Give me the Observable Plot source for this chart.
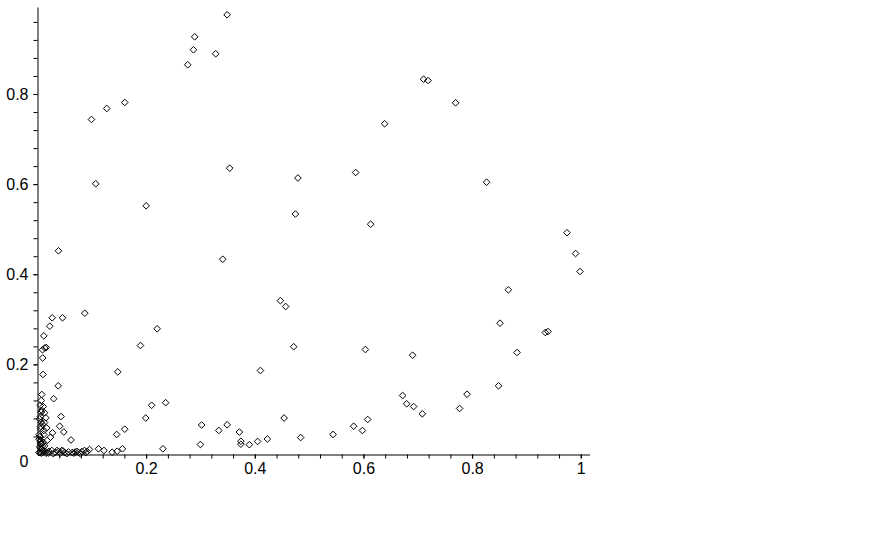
<!DOCTYPE html>
<html><head><meta charset="utf-8">
<script src="https://cdn.jsdelivr.net/npm/d3@7"></script>
<script src="https://cdn.jsdelivr.net/npm/@observablehq/plot@0.6"></script>
<style>body{margin:0;background:#fff}</style>
</head><body><div id="chart"></div>
<script>
// Point x values
const xValues = [
0.0984,0.1266,0.1597,0.1063,0.1991,0.2756,0.2885,0.2861,0.3271,0.3481,
0.3529,0.4784,0.4738,0.5847,0.6123,0.6381,0.7098,0.7179,0.7687,0.8258,
0.9737,0.9895,0.9976,0.8657,0.8504,0.9338,0.9387,0.8817,0.6896,0.6026,
0.4707,0.4462,0.4559,0.8478,0.7897,0.7761,0.6712,0.6786,0.6914,0.7075,
0.6068,0.5810,0.5971,0.5431,0.4835,0.4530,0.0377,0.3400,0.0861,0.0261,
0.0451,0.0217,0.0107,0.0125,0.0151,0.0083,0.0086,0.0092,0.2193,0.1886,
0.1468,0.4094,0.0372,0.0289,0.2092,0.2350,0.1983,0.0423,0.0399,0.0475,
0.0607,0.1448,0.1597,0.3012,0.3327,0.3481,0.3707,0.3735,0.3735,0.3891,
0.4042,0.4223,0.2990,0.2300,0.1113,0.1214,0.1365,0.1457,0.1555,
0.0070,0.0059,0.0096,0.0120,0.0144,0.0070,0.0046,0.0059,0.0107,0.0107,
0.0267,0.0230,0.0169,0.0059,0.0046,0.0070,0.0046,0.0037,0.0083,0.0138,
0.0193,0.0018,0.0254,0.0322,0.0377,0.0438,0.0488,0.0561,0.0629,0.0684,
0.0745,0.0806,0.0856,0.0905,0.0948,
0.0020,0.0040,0.0060,0.0080,0.0030,0.0050,0.0070,0.0090,0.0040,0.0060,
0.0020,0.0100,0.0120,0.0150,0.0200,0.0280,0.0350,0.0410,0.0460,0.0530,
0.0660,0.0720,0.0780,0.0880,0.0040,0.0060,0.0030,0.0080,0.0050,0.0120,
0.0160
];
// Point y values
const yValues = [
0.7446,0.7690,0.7823,0.6019,0.5530,0.8660,0.9280,0.8993,0.8904,0.9769,
0.6365,0.6147,0.5348,0.6270,0.5122,0.7350,0.8340,0.8311,0.7816,0.6054,
0.4933,0.4472,0.4072,0.3666,0.2925,0.2719,0.2741,0.2275,0.2215,0.2341,
0.2403,0.3424,0.3296,0.1536,0.1349,0.1032,0.1320,0.1136,0.1076,0.0914,
0.0788,0.0639,0.0544,0.0455,0.0388,0.0821,0.4532,0.4345,0.3147,0.3045,
0.3045,0.2858,0.2645,0.2375,0.2386,0.2335,0.2153,0.1787,0.2801,0.2430,
0.1846,0.1875,0.1536,0.1249,0.1103,0.1161,0.0821,0.0854,0.0639,0.0510,
0.0333,0.0455,0.0573,0.0666,0.0544,0.0670,0.0510,0.0306,0.0240,0.0229,
0.0300,0.0355,0.0233,0.0138,0.0138,0.0100,0.0062,0.0084,0.0138,
0.1343,0.1210,0.1076,0.0937,0.0826,0.0988,0.0854,0.0728,0.0544,0.0455,
0.0493,0.0395,0.0322,0.0322,0.0249,0.0138,0.0632,0.0410,0.0055,0.0078,
0.0044,0.0055,0.0100,0.0055,0.0078,0.0100,0.0055,0.0067,0.0055,0.0067,
0.0055,0.0078,0.0100,0.0078,0.0122,
0.0350,0.0300,0.0250,0.0200,0.0180,0.0150,0.0120,0.0090,0.0060,0.0040,
0.0450,0.0280,0.0200,0.0040,0.0080,0.0030,0.0100,0.0040,0.0090,0.0030,
0.0040,0.0080,0.0030,0.0050,0.1100,0.0950,0.0800,0.0680,0.0580,0.0720,
0.0600
];
const xTickValues = [0.2, 0.4, 0.6, 0.8, 1];
const xTickLabels = ["0.2", "0.4", "0.6", "0.8", "1"];
const yTickValues = [0.2, 0.4, 0.6, 0.8];
const yTickLabels = ["0.2", "0.4", "0.6", "0.8"];
const yZeroTick = [0];
const yZeroLabel = ["0"];
const minorStep = 0.04;

const points = xValues.map((x, i) => ({x, y: yValues[i]}));
const xMinor = d3.range(1, 26).map(k => +(k * minorStep).toFixed(2));
const yMinor = d3.range(1, 25).map(k => +(k * minorStep).toFixed(2));
const font = "Liberation Sans, Arial, sans-serif";

const chart = Plot.plot({
  width: 893,
  height: 558,
  marginLeft: 37.5,
  marginRight: 303,
  marginTop: 7.5,
  marginBottom: 103.5,
  style: {fontFamily: font, fontSize: "16px", background: "#fff", color: "#000"},
  x: {domain: [0, 1.017], axis: null},
  y: {domain: [0, 0.992], axis: null},
  marks: [
    Plot.ruleX([0], {stroke: "#000", strokeWidth: 1}),
    Plot.ruleY([0], {stroke: "#000", strokeWidth: 1}),
    Plot.axisX({ticks: xMinor, tickSize: 4, tickFormat: () => "", label: null, stroke: "#000"}),
    Plot.axisY({ticks: yMinor, tickSize: 4, tickFormat: () => "", label: null, stroke: "#000"}),
    Plot.axisX({ticks: xTickValues, tickSize: 4, tickPadding: 4, fontSize: 16, label: null,
      tickFormat: d => xTickLabels[xTickValues.indexOf(d)], fill: "#000"}),
    Plot.axisY({ticks: yTickValues, tickSize: 4, tickPadding: 5.5, fontSize: 16, label: null,
      tickFormat: d => yTickLabels[yTickValues.indexOf(d)], fill: "#000"}),
    Plot.axisY({ticks: yZeroTick, tickSize: 0, tickPadding: 9.5, fontSize: 16, dy: 7, label: null,
      tickFormat: d => yZeroLabel[yZeroTick.indexOf(d)], fill: "#000"}),
    Plot.dot(points, {x: "x", y: "y", symbol: "diamond2", r: 3, stroke: "#000", strokeWidth: 1, fill: "none"})
  ]
});
document.getElementById("chart").appendChild(chart);
</script>
</body></html>
